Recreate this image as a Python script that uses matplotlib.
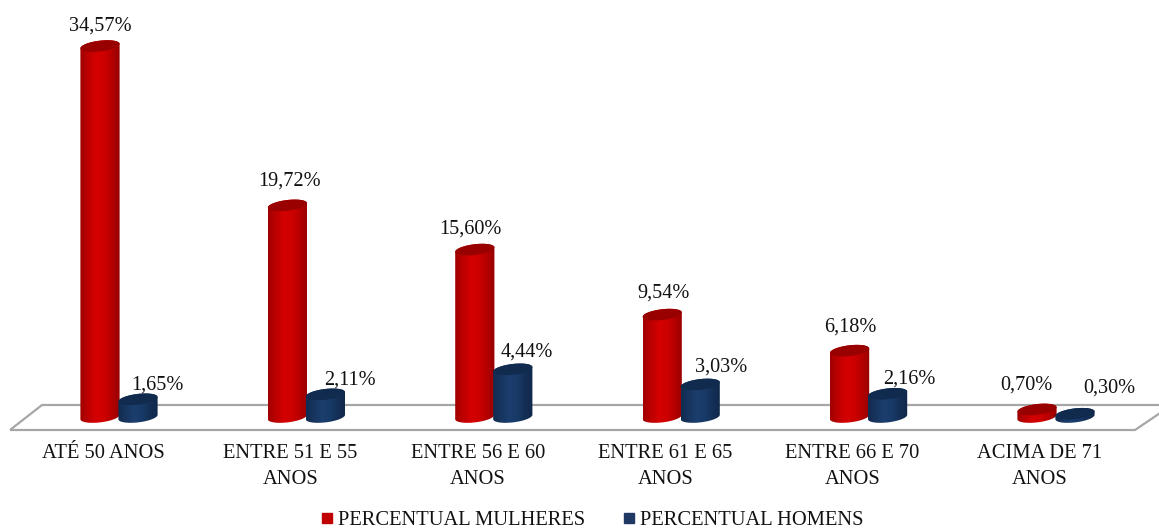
import numpy as np
import matplotlib
matplotlib.use("Agg")
import matplotlib.pyplot as plt
from matplotlib.colors import LinearSegmentedColormap
from matplotlib.lines import Line2D
from matplotlib.patches import Polygon

categories = ["ATÉ 50 ANOS", "ENTRE 51 E 55\nANOS", "ENTRE 56 E 60\nANOS",
              "ENTRE 61 E 65\nANOS", "ENTRE 66 E 70\nANOS", "ACIMA DE 71\nANOS"]
mulheres = [34.57, 19.72, 15.60, 9.54, 6.18, 0.70]
homens = [1.65, 2.11, 4.44, 3.03, 2.16, 0.30]
series_names = ["PERCENTUAL MULHERES", "PERCENTUAL HOMENS"]

plt.rcParams["font.family"] = ["Liberation Serif", "DejaVu Serif"]
W, H = 1159, 529
FS = 14.6
FS_AXIS = 14.8
fig = plt.figure(figsize=(W / 100, H / 100), dpi=100, facecolor="white")
AX_BOTTOM_PX = 436
ax = fig.add_axes([0, 1 - AX_BOTTOM_PX / H, 1, AX_BOTTOM_PX / H])
ax.set_facecolor("none")

X0, DX = 103.0, 187.4      # pixel position of first category, pixels per category
Y0, DY = 417.0, 10.73      # pixel position of zero, pixels per percentage point
ax.set_xlim(-X0 / DX, (W - X0) / DX)
ax.set_ylim(-(AX_BOTTOM_PX - Y0) / DY, Y0 / DY)
for s in ax.spines.values():
    s.set_visible(False)
ax.set_yticks([])
ax.set_xticks(range(len(categories)), categories, fontsize=FS_AXIS, color="#111111", linespacing=1.45)
ax.tick_params(axis="x", length=0, pad=6)
for lab in ax.get_xticklabels():
    lab.set_verticalalignment("top")


def px(x, y):
    return (x - X0) / DX, (Y0 - y) / DY


# floor of the 3D chart
floor = Polygon([px(10, 430), px(1135, 430), px(1172, 405), px(42, 405)], closed=True,
                fill=False, edgecolor="#a6a6a6", lw=1.6, zorder=1, joinstyle="miter")
ax.add_patch(floor)

HALF_W = 19.6 / DX
HALF_H = 5.4 / DY
SHEAR = 2.2 / DY
OFFSET = 19.0 / DX

red_body = LinearSegmentedColormap.from_list("r", ["#a00000", "#bd0000", "#d40000", "#cf0000", "#b50000", "#960000"])
blue_body = LinearSegmentedColormap.from_list("b", ["#122c50", "#17355f", "#1b3e6e", "#183a68", "#142f56", "#102849"])


def ellipse(cx, cy, t):
    c, s = np.cos(t), np.sin(t)
    return np.column_stack([cx + HALF_W * c, cy + HALF_H * s + SHEAR * c])


def cylinder(cx, value, cmap, cap, z):
    lower = ellipse(cx, 0.0, np.linspace(np.pi, 2 * np.pi, 50))
    upper = ellipse(cx, value, np.linspace(0, np.pi, 50))
    body = Polygon(np.vstack([lower, upper]), closed=True, facecolor="none", edgecolor="none", zorder=z)
    ax.add_patch(body)
    grad = np.linspace(0, 1, 128).reshape(1, -1)
    im = ax.imshow(grad, cmap=cmap, aspect="auto", zorder=z, interpolation="bilinear",
                   extent=(cx - HALF_W, cx + HALF_W, -2 * HALF_H - SHEAR, value + 2 * HALF_H + SHEAR))
    im.set_clip_path(body)
    top = Polygon(ellipse(cx, value, np.linspace(0, 2 * np.pi, 80)), closed=True,
                  facecolor=cap, edgecolor="none", zorder=z + 0.1)
    ax.add_patch(top)


def pct(v):
    return f"{v:.2f}%".replace(".", ",")


red_offsets = [(0, 20), (2, 24), (-4, 21), (1, 22), (1, 24), (-11, 24)]
blue_offsets = [(19, 14), (25, 14), (14, 17), (21, 17), (22, 15), (34, 26)]

for i, (m, h) in enumerate(zip(mulheres, homens)):
    cylinder(i - 3 / DX, m, red_body, "#990000", 3)
    cylinder(i - 3 / DX + 2 * OFFSET, h, blue_body, "#112b4e", 4)
    ax.annotate(pct(m), (i - 3 / DX, m), xytext=red_offsets[i], textcoords="offset pixels",
                ha="center", va="center", fontsize=FS, color="#111111", zorder=6)
    ax.annotate(pct(h), (i - 3 / DX + 2 * OFFSET, h), xytext=blue_offsets[i], textcoords="offset pixels",
                ha="center", va="center", fontsize=FS, color="#111111", zorder=6)

ax.set_xlim(-X0 / DX, (W - X0) / DX)
ax.set_ylim(-(AX_BOTTOM_PX - Y0) / DY, Y0 / DY)

handles = [Line2D([], [], marker="s", ls="none", ms=6.5, color="#c00000"),
           Line2D([], [], marker="s", ls="none", ms=6.5, color="#1f3864")]
fig.legend(handles, series_names, loc="center", bbox_to_anchor=(590 / W, 1 - 520 / H), ncol=2,
           frameon=False, fontsize=14.8, handletextpad=0.05, columnspacing=1.6,
           handlelength=1.0, borderpad=0, labelcolor="#111111")

fig.savefig("out.png", dpi=100, facecolor="white")
